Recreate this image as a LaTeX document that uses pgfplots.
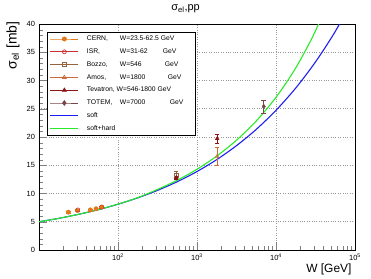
\documentclass[border=0pt]{standalone}
\usepackage{pgfplots}
\pgfplotsset{compat=1.18}
\usepackage{fontspec}
\setmainfont{Liberation Sans}
\definecolor{cernc}{RGB}{225,120,25}
\definecolor{isrc}{RGB}{200,50,50}
\definecolor{bozzoc}{RGB}{150,100,60}
\definecolor{amosc}{RGB}{205,105,55}
\definecolor{tevc}{RGB}{140,20,20}
\definecolor{totemc}{RGB}{120,70,70}
\definecolor{softc}{RGB}{30,30,240}
\definecolor{hardc}{RGB}{40,235,40}
\begin{document}
\begin{tikzpicture}
\begin{semilogxaxis}[
  at={(39bp,29bp)}, anchor=south west,
  scale only axis, width=316bp, height=226bp,
  xmin=10, xmax=1e5, ymin=0, ymax=40,
  xtick={100,1000,10000,100000},
  xticklabels={10\textsuperscript{2},10\textsuperscript{3},10\textsuperscript{4},10\textsuperscript{5}},
  minor xtick={20,30,40,50,60,70,80,90,200,300,400,500,600,700,800,900,2000,3000,4000,5000,6000,7000,8000,9000,20000,30000,40000,50000,60000,70000,80000,90000},
  ytick={0,5,...,40},
  minor ytick={1,2,3,4,6,7,8,9,11,12,13,14,16,17,18,19,21,22,23,24,26,27,28,29,31,32,33,34,36,37,38,39},
  tick pos=left, tick align=inside,
  major tick length=8bp, minor tick length=4bp,
  grid=major, major grid style={dotted, gray!80, line width=0.6pt},
  minor grid style={draw=none},
  axis line style={line width=0.6pt},
  /pgf/number format/assume math mode=true,
  tick label style={font=\fontsize{7.5}{9}\selectfont},
  yticklabel style={xshift=-0.5bp},
  legend style={at={(0.0253,0.9646)}, anchor=north west, draw=black, line width=0.5pt,
    fill=white, inner xsep=2.5bp, inner ysep=2.5bp, row sep=4.3bp,
    font=\fontsize{6.8}{7}\selectfont,
    nodes={inner sep=1bp, text height=5bp, text depth=1.5bp}},
  legend cell align=left,
  legend image code/.code={\draw[mark repeat=2,mark phase=2,#1] plot coordinates {(0bp,0bp) (14bp,0bp) (28bp,0bp)};},
  error bars/error bar style={line width=0.6pt},
]
\addlegendimage{cernc, line width=0.7pt, mark=*, mark size=2.1bp, mark options={solid}}
\addlegendentry{\makebox[112bp][l]{\hspace{7bp}\makebox[33bp][l]{CERN,}W=23.5-62.5 GeV}}
\addlegendimage{isrc, line width=0.7pt, mark=o, mark size=2bp, mark options={solid}}
\addlegendentry{\makebox[112bp][l]{\hspace{7bp}\makebox[33bp][l]{ISR,}\makebox[43bp][l]{W=31-62}GeV}}
\addlegendimage{bozzoc, line width=0.7pt, mark=square, mark size=2bp, mark options={solid}}
\addlegendentry{\makebox[112bp][l]{\hspace{7bp}\makebox[33bp][l]{Bozzo,}\makebox[45bp][l]{W=546}GeV}}
\addlegendimage{amosc, line width=0.7pt, mark=triangle, mark size=2.2bp, mark options={solid}}
\addlegendentry{\makebox[112bp][l]{\hspace{7bp}\makebox[33bp][l]{Amos,}\makebox[48bp][l]{W=1800}GeV}}
\addlegendimage{tevc, line width=0.7pt, mark=triangle*, mark size=2.2bp, mark options={solid}}
\addlegendentry{\makebox[112bp][l]{\hspace{7bp}Tevatron, W=546-1800 GeV}}
\addlegendimage{totemc, line width=0.7pt, mark=diamond*, mark size=2.3bp, mark options={solid}}
\addlegendentry{\makebox[112bp][l]{\hspace{7bp}\makebox[33bp][l]{TOTEM,}\makebox[50bp][l]{W=7000}GeV}}
\addlegendimage{softc, line width=1.2pt}
\addlegendentry{\makebox[112bp][l]{\hspace{7bp}soft}}
\addlegendimage{hardc, line width=1.2pt}
\addlegendentry{\makebox[112bp][l]{\hspace{7bp}soft+hard}}

% soft
\addplot[softc, line width=1.1pt, smooth, forget plot] coordinates {
(10,5.00) (17.78,5.60) (31.62,6.31) (56.23,7.13) (100,8.10) (177.8,9.23) (316.2,10.55) (562.3,12.09) (1000,13.89) (1778,16.00) (3162,18.47) (5623,21.35) (10000,24.73) (17783,28.67) (31623,33.29) (56234,38.68) (100000,44.99)
};
% soft+hard
\addplot[hardc, line width=1.1pt, smooth, forget plot] coordinates {
(10,5.00) (17.78,5.60) (31.62,6.32) (56.23,7.14) (100,8.12) (177.8,9.27) (316.2,10.72) (562.3,12.35) (1000,14.29) (1778,16.62) (3162,19.43) (5623,22.83) (10000,27.03) (17783,32.23) (31623,38.79) (56234,47.20)
};
% CERN
\addplot[cernc, only marks, mark=*, mark size=2.2bp, forget plot,
  error bars/.cd, y dir=both, y explicit] coordinates {
(23.5,6.7) +- (0,0.15) (30.6,7.0) +- (0,0.15) (44.7,7.1) +- (0,0.15) (52.8,7.3) +- (0,0.15) (62.5,7.6) +- (0,0.15)
};
% ISR
\addplot[isrc, only marks, mark=o, mark size=2.1bp, forget plot,
  error bars/.cd, y dir=both, y explicit] coordinates {
(31,7.1) +- (0,0.2) (62,7.6) +- (0,0.2)
};
% Bozzo
\addplot[bozzoc, only marks, mark=square, mark size=2bp, forget plot,
  error bars/.cd, y dir=both, y explicit] coordinates {
(546,13.3) +- (0,0.6)
};
% Amos
\addplot[amosc, only marks, mark=triangle, mark size=2.2bp, forget plot,
  error bars/.cd, y dir=both, y explicit] coordinates {
(1800,16.6) +- (0,1.6)
};
% Tevatron
\addplot[tevc, only marks, mark=triangle*, mark size=2.2bp, forget plot,
  error bars/.cd, y dir=both, y explicit] coordinates {
(546,12.8) +- (0,0.3) (1800,19.7) +- (0,0.85)
};
% TOTEM
\addplot[totemc, only marks, mark=diamond*, mark size=2.3bp, forget plot,
  error bars/.cd, y dir=both, y explicit] coordinates {
(7000,25.4) +- (0,1.15)
};
\end{semilogxaxis}
\node[font=\fontsize{11}{13}\selectfont] at (185.5bp,270bp) {σ\textsubscript{el},pp};
\node[rotate=90, anchor=east, font=\fontsize{14}{16}\selectfont] at (13bp,261bp) {σ\textsubscript{el} [mb]};
\node[anchor=south east, font=\fontsize{12}{14}\selectfont] at (355bp,0bp) {W [GeV]};
\pgfresetboundingbox
\path[use as bounding box] (0,0) rectangle (371bp,279bp);
\end{tikzpicture}
\end{document}
